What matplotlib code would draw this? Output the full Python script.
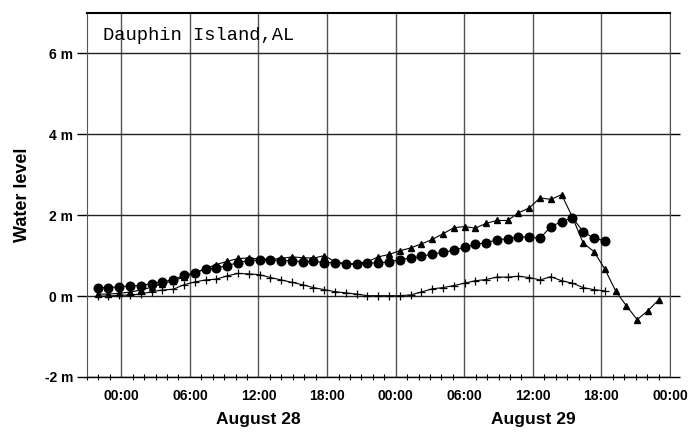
import matplotlib.pyplot as plt
import numpy as np

# sampling: first point ~21:56 Aug 27, spacing ~0.944 h
t_start = -2.07
t_step = 0.944

# filled circles
circles = [0.21, 0.21, 0.23, 0.25, 0.26, 0.31, 0.35, 0.41, 0.51, 0.58, 0.66, 0.70, 0.75, 0.83,
           0.88, 0.89, 0.89, 0.88, 0.88, 0.85, 0.86, 0.83, 0.83, 0.79, 0.79, 0.81, 0.83, 0.84,
           0.90, 0.94, 0.98, 1.04, 1.08, 1.13, 1.21, 1.28, 1.32, 1.39, 1.42, 1.47, 1.46, 1.43,
           1.72, 1.84, 1.94, 1.59, 1.43, 1.37]

# triangles
triangles = [0.05, 0.05, 0.07, 0.10, 0.15, 0.22, 0.30, 0.38, 0.47, 0.58, 0.68, 0.78, 0.86, 0.93,
             0.94, 0.92, 0.91, 0.93, 0.97, 0.95, 0.94, 1.00, 0.85, 0.80, 0.80, 0.85, 0.97, 1.03,
             1.12, 1.19, 1.29, 1.40, 1.54, 1.69, 1.72, 1.68, 1.80, 1.87, 1.87, 2.06, 2.18, 2.43,
             2.39, 2.51, 1.95, 1.31, 1.10, 0.67, 0.13, -0.24, -0.58, -0.36, -0.09]

# crosses (predicted tide)
crosses = [0.00, 0.00, 0.02, 0.03, 0.05, 0.11, 0.15, 0.17, 0.28, 0.35, 0.40, 0.42, 0.50, 0.56,
           0.55, 0.53, 0.46, 0.40, 0.34, 0.28, 0.21, 0.16, 0.11, 0.08, 0.05, 0.01, 0.01, 0.01,
           0.01, 0.03, 0.10, 0.18, 0.21, 0.26, 0.32, 0.38, 0.41, 0.47, 0.47, 0.49, 0.46, 0.40,
           0.48, 0.38, 0.32, 0.21, 0.16, 0.13]

xticks = [0, 6, 12, 18, 24, 30, 36, 42, 48]
xlabels = ['00:00', '06:00', '12:00', '18:00', '00:00', '06:00', '12:00', '18:00', '00:00']
yticks = [-2, 0, 2, 4, 6]
ylabels = ['-2 m', '0 m', '2 m', '4 m', '6 m']
days = ['August 28', 'August 29']
day_pos = [12, 36]


def times(n):
	return t_start + t_step * np.arange(n)


def main():
	fig = plt.figure(figsize=(6.94, 4.37), dpi=100)
	ax = fig.add_axes([0.1254, 0.1373, 0.84, 0.8330])

	ax.set_xlim(-3, 48)
	ax.set_ylim(-2, 7)

	for x in xticks:
		ax.axvline(x, color='#555555', lw=1.0, zorder=1)
	for y in yticks:
		ax.axhline(y, color='#222222', lw=1.0, zorder=1)

	kw = dict(color='black', lw=0.8, zorder=3)
	ax.plot(times(len(crosses)), crosses, marker='+', ms=6, mew=0.9, **kw)
	ax.plot(times(len(triangles)), triangles, marker='^', ms=4.2, **kw)
	ax.plot(times(len(circles)), circles, marker='o', ms=6.2, **kw)

	ax.set_xticks(xticks)
	ax.set_xticklabels(xlabels, fontsize=10, fontweight='bold', family='Liberation Sans')
	ax.set_xticks(np.arange(-3, 49, 1), minor=True)
	ax.set_yticks(yticks)
	ax.set_yticklabels(ylabels, fontsize=10, fontweight='bold', family='Liberation Sans')
	ax.tick_params(axis='x', which='major', length=0, pad=9)
	ax.tick_params(axis='x', which='minor', direction='inout', length=5, width=0.8)
	ax.tick_params(axis='y', which='major', direction='out', length=7, width=1.0,
				   right=True, pad=3)

	for sp in ['left', 'right']:
		ax.spines[sp].set_color('#555555')
	ax.spines['top'].set_linewidth(1.5)
	ax.spines['bottom'].set_linewidth(1.0)

	for d, p in zip(days, day_pos):
		ax.text(p, -0.095, d, transform=ax.get_xaxis_transform(), ha='center', va='top',
				fontsize=12.5, fontweight='bold', family='Liberation Sans')

	ax.set_ylabel('Water level', fontsize=13, fontweight='bold', family='Liberation Sans',
				  labelpad=10)
	ax.text(-1.6, 6.45, 'Dauphin Island,AL', fontsize=13.5, family='Liberation Mono',
			va='center', ha='left')

	fig.savefig('out.png', dpi=100)


if __name__ == '__main__':
	main()
